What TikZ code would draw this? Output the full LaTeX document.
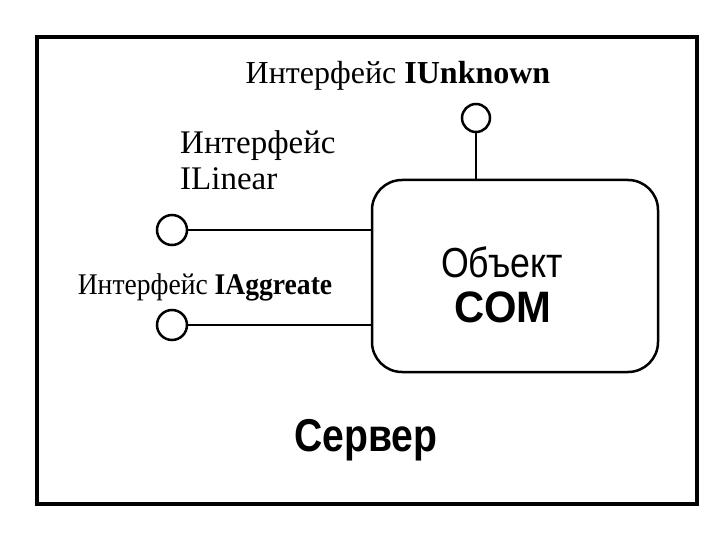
\documentclass[tikz,border=0pt]{standalone}
\usepackage{fontspec}
\setmainfont{Liberation Serif}
\newfontfamily\sans{Liberation Sans}
\tikzset{lw/.style={line width=2.5pt}, port/.style={circle,draw,line width=2.5pt,minimum size=30pt,inner sep=0pt}}
\begin{document}
\begin{tikzpicture}[x=1pt,y=-1pt]
\useasboundingbox (0,0) rectangle (720,540);
\draw[line width=3.5pt] (37,37) rectangle (697,504);
\node[draw,lw,rounded corners=30pt,minimum width=286pt,minimum height=192pt] (com) at (515,276) {};
\node[port,minimum size=28pt] (u) at (476,118) {};
\node[port] (l) at (172,230) {};
\node[port] (a) at (172,325) {};
\draw[lw] (u.south) -- (u.south |- com.north);
\draw[lw] (l.east) -- (l.east -| com.west);
\draw[lw] (a.east) -- (a.east -| com.west);
\node[font=\fontsize{32}{34}\selectfont] (tu) at (398,76) {Интерфейс \textbf{IUnknown}};
\node[font=\fontsize{33}{36}\selectfont,align=left,anchor=north west,inner sep=0pt] (tl) at (180,130) {Интерфейс\\ILinear};
\node[font=\fontsize{30}{32}\selectfont,xscale=0.92] (ta) at (205,287) {Интерфейс \textbf{IAggreate}};
\node[font=\sans\fontsize{42}{44}\selectfont,xscale=0.85] (o1) at (502,262) {Объект};
\node[font=\sans\bfseries\fontsize{44}{46}\selectfont,xscale=0.95] (o2) at (503,307) {COM};
\node[font=\sans\bfseries\fontsize{46}{48}\selectfont,xscale=0.85] (srv) at (366,440) {Сервер};
\end{tikzpicture}
\end{document}
